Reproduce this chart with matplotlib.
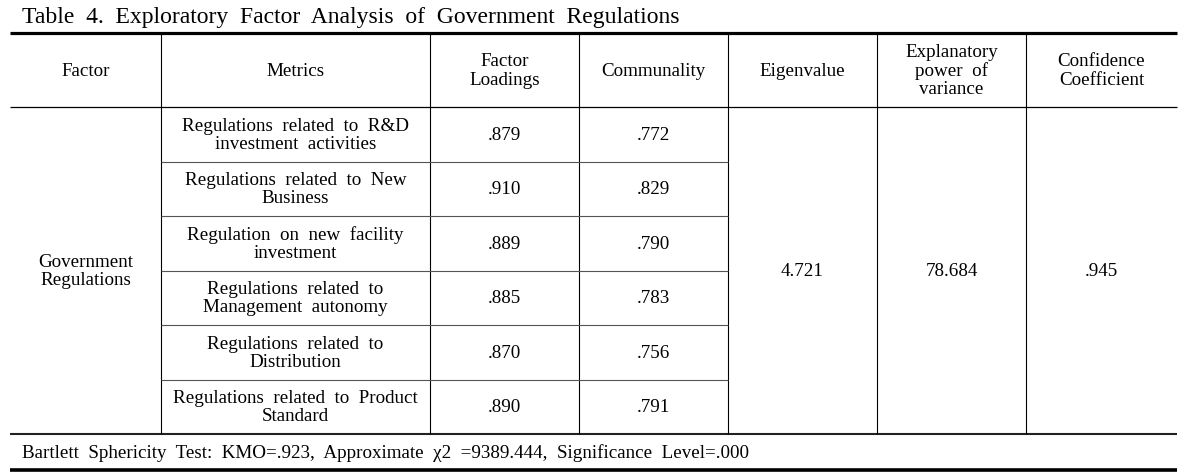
import matplotlib.pyplot as plt

# table contents
title = "Table 4. Exploratory Factor Analysis of Government Regulations"
headers = ["Factor", "Metrics", "Factor\nLoadings", "Communality",
           "Eigenvalue", "Explanatory\npower of\nvariance", "Confidence\nCoefficient"]
factor = "Government\nRegulations"
metrics = [
    "Regulations related to R&D\ninvestment activities",
    "Regulations related to New\nBusiness",
    "Regulation on new facility\ninvestment",
    "Regulations related to\nManagement autonomy",
    "Regulations related to\nDistribution",
    "Regulations related to Product\nStandard",
]
loadings = [".879", ".910", ".889", ".885", ".870", ".890"]
communality = [".772", ".829", ".790", ".783", ".756", ".791"]
eigenvalue = "4.721"
explained = "78.684"
confidence = ".945"
footnote = "Bartlett Sphericity Test: KMO=.923, Approximate \u03c72 =9389.444, Significance Level=.000"

plt.rcParams['font.family'] = ['Liberation Serif', 'DejaVu Serif']


def spaced(s):
    # the source typesetting uses wide word spacing
    return s.replace(' ', '  ')


# layout in pixels
col_x = [10, 161, 430, 579, 728, 877, 1026, 1177]
top_y = 34
head_y = 108
row_h = (435 - head_y) / len(metrics)
bottom_y = 435
end_y = 471

fig = plt.figure(figsize=(11.96, 4.77), dpi=100)
ax = fig.add_axes([0, 0, 1, 1])
ax.set_xlim(0, 1196)
ax.set_ylim(477, 0)
ax.axis('off')

fs = 13.7
ls = 1.1
ax.text(22, 17, spaced(title), fontsize=17, ha='left', va='center')

# rules
ax.hlines(top_y, col_x[0], col_x[-1], color='black', lw=2.3)
ax.hlines(head_y, col_x[0], col_x[-1], color='black', lw=0.9)
ax.hlines(bottom_y, col_x[0], col_x[-1], color='#222222', lw=1.5)
ax.hlines(end_y, col_x[0], col_x[-1], color='black', lw=2.6)
for x in col_x[1:-1]:
    ax.vlines(x, top_y, bottom_y, color='black', lw=0.8)
for i in range(1, len(metrics)):
    y = head_y + i * row_h
    ax.hlines(y, col_x[1], col_x[4], color='#555555', lw=0.8)


def center(i):
    return (col_x[i] + col_x[i + 1]) / 2


for i, h in enumerate(headers):
    ax.text(center(i), (top_y + head_y) / 2, spaced(h), fontsize=fs, ha='center',
            va='center', linespacing=ls)

mid = (head_y + bottom_y) / 2
ax.text(center(0), mid, factor, fontsize=fs, ha='center', va='center', linespacing=ls)
for i in range(len(metrics)):
    y = head_y + (i + 0.5) * row_h
    ax.text(center(1), y, spaced(metrics[i]), fontsize=fs, ha='center', va='center',
            linespacing=ls)
    ax.text(center(2), y, loadings[i], fontsize=fs, ha='center', va='center')
    ax.text(center(3), y, communality[i], fontsize=fs, ha='center', va='center')
ax.text(center(4), mid, eigenvalue, fontsize=fs, ha='center', va='center')
ax.text(center(5), mid, explained, fontsize=fs, ha='center', va='center')
ax.text(center(6), mid, confidence, fontsize=fs, ha='center', va='center')

ax.text(22, (bottom_y + end_y) / 2, spaced(footnote), fontsize=fs, ha='left', va='center')

fig.savefig('out.png', dpi=100)
